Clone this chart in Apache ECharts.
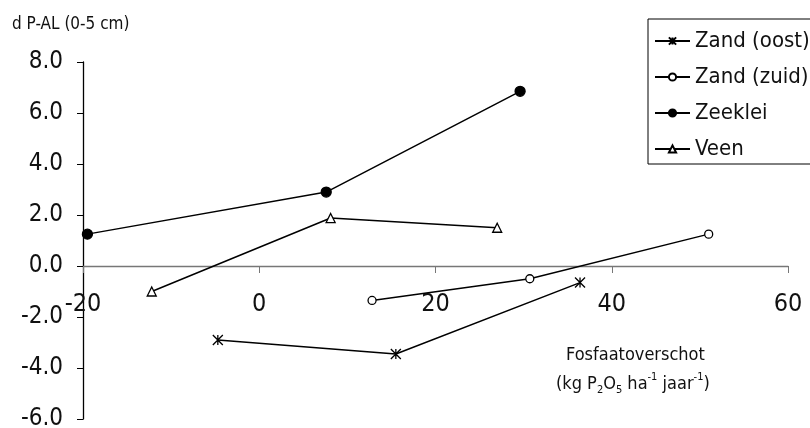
<!DOCTYPE html>
<html>
<head>
<meta charset="utf-8">
<script src="https://cdn.jsdelivr.net/npm/echarts@6/dist/echarts.min.js"></script>
<style>
  html, body { margin: 0; padding: 0; background: #fff; }
  #chart { width: 810px; height: 428px; }
</style>
</head>
<body>
<div id="chart"></div>
<script>
var FONT = "'Liberation Sans Narrow', 'DejaVu Sans Condensed', 'Liberation Sans', sans-serif";

// x = fosfaatoverschot, y = d P-AL
var zandOost = [[-4.7, -2.9], [15.5, -3.45], [36.4, -0.65]];
var zandZuid = [[12.8, -1.35], [30.7, -0.5], [51.0, 1.25]];
var zeeklei = [[-19.5, 1.25], [7.6, 2.9], [29.6, 6.85]];
var veen = [[-12.2, -1.0], [8.1, 1.88], [27.0, 1.5]];
var seriesNames = ['Zand (oost)', 'Zand (zuid)', 'Zeeklei', 'Veen'];

var ASTERISK = 'path://M0,0L10,10M10,0L0,10M5,0L5,10';

function mkSeries(name, data, symbol, size, fill) {
    return {
        name: name,
        type: 'line',
        data: data,
        symbol: symbol,
        symbolSize: size,
        showAllSymbol: true,
        lineStyle: { color: '#000', width: 1.5 },
        itemStyle: { color: fill, borderColor: '#000', borderWidth: 1.3 },
        emphasis: { disabled: true },
        z: 3
    };
}

var chart = echarts.init(document.getElementById('chart'));
chart.setOption({
    animation: false,
    backgroundColor: '#fff',
    textStyle: { fontFamily: FONT },
    title: {
        text: 'd P-AL (0-5 cm)',
        left: 7,
        top: 11,
        textStyle: { fontSize: 17, fontWeight: 'normal', color: '#111', fontFamily: FONT }
    },
    legend: {
        data: seriesNames,
        orient: 'vertical',
        left: 648,
        top: 19,
        padding: [11, 30, 4, 6],
        borderColor: '#000',
        borderWidth: 1,
        itemWidth: 35,
        itemHeight: 9,
        itemGap: 14,
        textStyle: { fontSize: 22, color: '#111', fontFamily: FONT }
    },
    grid: { left: 83, right: 22, top: 62, bottom: 9, containLabel: false, outerBoundsMode: 'none' },
    xAxis: {
        type: 'value',
        min: -20,
        max: 60,
        interval: 20,
        position: 'bottom',
        offset: -153,
        axisLine: { onZero: false, lineStyle: { color: '#777', width: 1.3 } },
        axisTick: { show: true, length: 7, lineStyle: { color: '#777' } },
        axisLabel: { fontSize: 25, color: '#111', margin: 26, fontFamily: FONT },
        splitLine: { show: false }
    },
    yAxis: {
        type: 'value',
        min: -6,
        max: 8,
        interval: 2,
        axisLine: { show: true, onZero: false, lineStyle: { color: '#000', width: 1.3 } },
        axisTick: { show: true, length: 6, lineStyle: { color: '#000' } },
        axisLabel: {
            fontSize: 24, color: '#111', margin: 20, fontFamily: FONT,
            formatter: function (v) { return v.toFixed(1); }
        },
        splitLine: { show: false }
    },
    graphic: [
        {
            type: 'text',
            left: 566,
            top: 346,
            style: { text: 'Fosfaatoverschot', fill: '#111', font: '18px ' + FONT }
        },
        {
            type: 'text',
            left: 556,
            top: 372,
            style: {
                text: '{n|(kg P}{sub|2}{n|O}{sub|5}{n| ha}{sup|-1}{n| jaar}{sup|-1}{n|)}',
                fill: '#111',
                rich: {
                    n: { fontSize: 18, lineHeight: 24, fontFamily: FONT, fill: '#111' },
                    sub: { fontSize: 11, lineHeight: 24, verticalAlign: 'bottom', fontFamily: FONT, fill: '#111' },
                    sup: { fontSize: 11, lineHeight: 24, verticalAlign: 'top', fontFamily: FONT, fill: '#111' }
                }
            }
        }
    ],
    series: [
        mkSeries('Zand (oost)', zandOost, ASTERISK, 10, '#000'),
        mkSeries('Zand (zuid)', zandZuid, 'circle', 8, '#fff'),
        mkSeries('Zeeklei', zeeklei, 'circle', 10, '#000'),
        mkSeries('Veen', veen, 'triangle', 9, '#fff')
    ]
});
</script>
</body>
</html>
